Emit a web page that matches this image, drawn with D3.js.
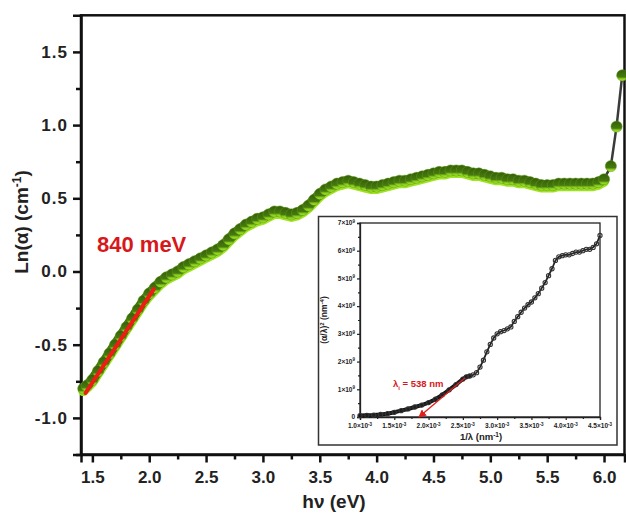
<!DOCTYPE html>
<html>
<head>
<meta charset="utf-8">
<script src="https://cdn.jsdelivr.net/npm/d3@7"></script>
<style>
  body { margin: 0; background: #fff; }
  svg { font-family: Arial, "Liberation Sans", sans-serif; }
</style>
</head>
<body>
<div id="chart"></div>
<script>
// main spectrum: photon energy (eV) vs Ln(alpha)
var energy = [1.42,1.45,1.50,1.55,1.60,1.65,1.70,1.75,1.80,1.85,1.90,1.95,2.00,2.05,2.10,2.15,2.20,2.25,2.30,2.35,2.40,2.45,2.50,2.55,2.60,2.65,2.70,2.75,2.80,2.85,2.90,2.95,3.00,3.05,3.10,3.15,3.20,3.25,3.30,3.35,3.40,3.45,3.50,3.55,3.60,3.65,3.70,3.75,3.80,3.85,3.90,3.95,4.00,4.05,4.10,4.15,4.20,4.25,4.30,4.35,4.40,4.45,4.50,4.55,4.60,4.65,4.70,4.75,4.80,4.85,4.90,4.95,5.00,5.05,5.10,5.15,5.20,5.25,5.30,5.35,5.40,5.45,5.50,5.55,5.60,5.65,5.70,5.75,5.80,5.85,5.90,5.95,6.00,6.06,6.11,6.16];
var lnAlpha = [-0.80,-0.78,-0.74,-0.68,-0.62,-0.56,-0.50,-0.44,-0.38,-0.32,-0.26,-0.20,-0.15,-0.11,-0.07,-0.04,-0.02,0.00,0.03,0.05,0.07,0.09,0.11,0.13,0.15,0.18,0.22,0.26,0.29,0.32,0.34,0.36,0.37,0.39,0.41,0.41,0.40,0.39,0.40,0.42,0.45,0.49,0.53,0.56,0.58,0.60,0.61,0.62,0.61,0.60,0.59,0.58,0.58,0.59,0.60,0.61,0.62,0.62,0.63,0.64,0.65,0.66,0.67,0.68,0.68,0.69,0.69,0.69,0.68,0.67,0.67,0.66,0.65,0.64,0.64,0.63,0.63,0.62,0.62,0.61,0.60,0.59,0.59,0.59,0.60,0.60,0.60,0.60,0.60,0.60,0.60,0.61,0.63,0.72,0.99,1.34];
// linear fit (Urbach tail)
var fitE = [1.44, 2.04];
var fitY = [-0.83, -0.12];
var xTicks = [1.5,2.0,2.5,3.0,3.5,4.0,4.5,5.0,5.5,6.0];
var yTicks = [-1.0,-0.5,0.0,0.5,1.0,1.5];

// inset: 1/lambda vs (alpha/lambda)^2
var invLambda = [1.0,1.1,1.2,1.3,1.4,1.5,1.6,1.7,1.8,1.9,2.0,2.1,2.2,2.3,2.4,2.5,2.55,2.6,2.65,2.7,2.75,2.8,2.85,2.9,2.95,3.0,3.05,3.1,3.15,3.2,3.25,3.3,3.35,3.4,3.45,3.5,3.55,3.6,3.65,3.7,3.75,3.8,3.85,3.9,3.95,4.0,4.05,4.1,4.15,4.2,4.25,4.3,4.35,4.4,4.45,4.5];
var alphaLam = [0.05,0.06,0.07,0.09,0.12,0.17,0.23,0.29,0.36,0.43,0.52,0.64,0.80,0.98,1.17,1.37,1.45,1.48,1.52,1.60,1.80,2.05,2.35,2.62,2.85,3.00,3.08,3.12,3.18,3.25,3.45,3.62,3.78,3.93,4.05,4.15,4.30,4.45,4.65,4.85,5.10,5.35,5.65,5.78,5.82,5.85,5.85,5.90,5.95,5.95,6.00,6.05,6.05,6.12,6.25,6.55];
var insetFitX = [1.86, 2.53];
var insetFitY = [0, 1.41];
var insetXTicks = [1.0,1.5,2.0,2.5,3.0,3.5,4.0,4.5];
var insetYTicks = [0,1,2,3,4,5,6,7];

var W = 626, H = 515;
var svg = d3.select("#chart").append("svg")
    .attr("width", W).attr("height", H);

// gradient for the ball markers: dark top, thin lime bottom
var defs = svg.append("defs");
var grad = defs.append("linearGradient").attr("id", "ball")
    .attr("x1", 0).attr("y1", 0).attr("x2", 0).attr("y2", 1);
grad.append("stop").attr("offset", "0%").attr("stop-color", "#365f0a");
grad.append("stop").attr("offset", "65%").attr("stop-color", "#467a0f");
grad.append("stop").attr("offset", "80%").attr("stop-color", "#86c91c");
grad.append("stop").attr("offset", "100%").attr("stop-color", "#abea2e");

var x = d3.scaleLinear().domain([1.4, 6.18]).range([81, 624.5]);
var y = d3.scaleLinear().domain([-1.25, 1.75]).range([454.5, 15.3]);
var fmt = function(d) { return d.toFixed(1); };

// frame
svg.append("rect")
  .attr("x", 81).attr("y", 15.3)
  .attr("width", 624.5 - 81).attr("height", 454.5 - 15.3)
  .attr("fill", "none").attr("stroke", "#111").attr("stroke-width", 2.5);

// x axis
var xAxis = svg.append("g")
  .attr("transform", "translate(0,454.5)")
  .call(d3.axisBottom(x).tickValues(xTicks).tickFormat(fmt).tickSize(8).tickPadding(8));
svg.append("g")
  .attr("transform", "translate(0,454.5)")
  .call(d3.axisBottom(x).tickValues(d3.range(1.75, 6.1, 0.5)).tickFormat("").tickSize(5))
  .select(".domain").remove();

// y axis
var yAxis = svg.append("g")
  .attr("transform", "translate(81,0)")
  .call(d3.axisLeft(y).tickValues(yTicks).tickFormat(fmt).tickSize(8).tickPadding(5));
svg.append("g")
  .attr("transform", "translate(81,0)")
  .call(d3.axisLeft(y).tickValues([-1.25,-0.75,-0.25,0.25,0.75,1.25]).tickFormat("").tickSize(5))
  .select(".domain").remove();

svg.selectAll(".tick line").attr("stroke", "#111").attr("stroke-width", 2.5);
svg.selectAll(".domain").attr("stroke", "#111").attr("stroke-width", 2.5);
xAxis.selectAll("text").style("font-size", "17px").style("font-weight", "bold").attr("fill", "#222");
yAxis.selectAll("text").style("font-size", "17px").style("font-weight", "bold").attr("fill", "#222")
  .attr("letter-spacing", "1px");

// axis titles
var yt = svg.append("text")
  .attr("transform", "translate(28,222) rotate(-90)")
  .attr("text-anchor", "middle")
  .style("font-size", "19px").style("font-weight", "bold").attr("fill", "#222");
yt.append("tspan").text("Ln(α) (cm");
yt.append("tspan").attr("dy", -7).style("font-size", "12px").text("-1");
yt.append("tspan").attr("dy", 7).text(")");

svg.append("text")
  .attr("x", 334).attr("y", 508)
  .attr("text-anchor", "middle")
  .style("font-size", "19px").style("font-weight", "bold").attr("fill", "#222")
  .text("hν (eV)");

// data: band (lime underlay shifted down + dark green body) then beads
var pts = energy.map(function(e, i) { return {e: e, v: lnAlpha[i]}; });
var band = pts.filter(function(d) { return d.e <= 6.0; });
var line = d3.line().x(function(d) { return x(d.e); }).y(function(d) { return y(d.v); });
svg.append("path").datum(band)
  .attr("d", line).attr("transform", "translate(0,2.5)")
  .attr("fill", "none").attr("stroke", "#9fe324")
  .attr("stroke-width", 10).attr("stroke-linecap", "round");
svg.append("path").datum(band)
  .attr("d", line)
  .attr("fill", "none").attr("stroke", "#40700d")
  .attr("stroke-width", 10).attr("stroke-linecap", "round");
svg.append("path").datum(pts)
  .attr("d", line).attr("fill", "none")
  .attr("stroke", "#3a3a3a").attr("stroke-width", 2.5);
svg.append("g").selectAll("circle")
  .data(pts).enter().append("circle")
    .attr("cx", function(d) { return x(d.e); })
    .attr("cy", function(d) { return y(d.v); })
    .attr("r", 5.6)
    .attr("fill", "url(#ball)")
    .attr("stroke", "#5e9a14").attr("stroke-width", 0.5);

// fit line
svg.append("line")
  .attr("x1", x(fitE[0])).attr("y1", y(fitY[0]))
  .attr("x2", x(fitE[1])).attr("y2", y(fitY[1]))
  .attr("stroke", "#ee1c14").attr("stroke-width", 4).attr("stroke-linecap", "round");

svg.append("text")
  .attr("x", 97).attr("y", 252)
  .style("font-size", "22px").style("font-weight", "bold")
  .attr("fill", "#d7181b")
  .text("840 meV");

// ---------- inset ----------
svg.append("rect")
  .attr("x", 318.5).attr("y", 216.5).attr("width", 298.5).attr("height", 228.5)
  .attr("fill", "#fff").attr("stroke", "#333").attr("stroke-width", 1.5);

var ix = d3.scaleLinear().domain([1.0, 4.5]).range([360, 600]);
var iy = d3.scaleLinear().domain([0, 7]).range([417, 223]);

var inset = svg.append("g");
inset.append("rect")
  .attr("x", 360).attr("y", 223).attr("width", 240).attr("height", 194)
  .attr("fill", "none").attr("stroke", "#222").attr("stroke-width", 1.3);

inset.append("g").attr("transform", "translate(0,417)")
  .call(d3.axisBottom(ix).tickValues(insetXTicks).tickFormat("").tickSize(3));
inset.append("g").attr("transform", "translate(0,417)")
  .call(d3.axisBottom(ix).tickValues(d3.range(1.25, 4.5, 0.5)).tickFormat("").tickSize(2))
  .select(".domain").remove();
inset.append("g").attr("transform", "translate(360,0)")
  .call(d3.axisLeft(iy).tickValues(insetYTicks).tickFormat("").tickSize(3));
inset.append("g").attr("transform", "translate(360,0)")
  .call(d3.axisLeft(iy).tickValues(d3.range(0.5, 7, 1)).tickFormat("").tickSize(2))
  .select(".domain").remove();
inset.selectAll(".tick line").attr("stroke", "#222").attr("stroke-width", 1.2);
inset.selectAll(".domain").attr("stroke", "#222").attr("stroke-width", 1.3);

// inset tick labels with superscripts
insetXTicks.forEach(function(t) {
  var tx = inset.append("text")
    .attr("x", ix(t)).attr("y", 428)
    .attr("text-anchor", "middle")
    .style("font-size", "6.5px").style("font-weight", "bold").attr("fill", "#222");
  tx.append("tspan").text(t.toFixed(1) + "×10");
  tx.append("tspan").attr("dy", -2.5).style("font-size", "4.5px").text("-3");
});
insetYTicks.forEach(function(t) {
  var ty = inset.append("text")
    .attr("x", 355).attr("y", iy(t) + 2.3)
    .attr("text-anchor", "end")
    .style("font-size", "6.5px").style("font-weight", "bold").attr("fill", "#222");
  if (t === 0) { ty.text("0"); return; }
  ty.append("tspan").text(t + "×10");
  ty.append("tspan").attr("dy", -2.5).style("font-size", "4.5px").text("9");
});

// inset titles
var iyt = inset.append("text")
  .attr("transform", "translate(327,320) rotate(-90)")
  .attr("text-anchor", "middle")
  .style("font-size", "8.5px").style("font-weight", "bold").attr("fill", "#222");
iyt.append("tspan").text("(α/λ)");
iyt.append("tspan").attr("dy", -3).style("font-size", "6px").text("2");
iyt.append("tspan").attr("dy", 3).text(" (nm");
iyt.append("tspan").attr("dy", -3).style("font-size", "6px").text("-4");
iyt.append("tspan").attr("dy", 3).text(")");

var ixt = inset.append("text")
  .attr("x", 481).attr("y", 440)
  .attr("text-anchor", "middle")
  .style("font-size", "9.5px").style("font-weight", "bold").attr("fill", "#222");
ixt.append("tspan").text("1/λ (nm");
ixt.append("tspan").attr("dy", -3.5).style("font-size", "6.5px").text("-1");
ixt.append("tspan").attr("dy", 3.5).text(")");

// inset data
var ipts = invLambda.map(function(v, i) { return {x: v, y: alphaLam[i]}; });
var iline = d3.line().x(function(d) { return ix(d.x); }).y(function(d) { return iy(d.y); });
inset.append("path").datum(ipts.filter(function(d) { return d.x <= 2.6; }))
  .attr("d", iline).attr("fill", "none")
  .attr("stroke", "#111").attr("stroke-width", 4).attr("stroke-linecap", "round");
inset.append("path").datum(ipts)
  .attr("d", iline).attr("fill", "none")
  .attr("stroke", "#222").attr("stroke-width", 1.8);
inset.append("g").selectAll("circle")
  .data(ipts).enter().append("circle")
    .attr("cx", function(d) { return ix(d.x); })
    .attr("cy", function(d) { return iy(d.y); })
    .attr("r", 2.1)
    .attr("fill", "none")
    .attr("stroke", "#333").attr("stroke-width", 1.1);

// inset fit line with arrow at the x-intercept
defs.append("marker").attr("id", "arrow")
  .attr("viewBox", "0 0 10 10").attr("refX", 9).attr("refY", 5)
  .attr("markerWidth", 6).attr("markerHeight", 6).attr("orient", "auto")
  .append("path").attr("d", "M0,0 L10,5 L0,10 z").attr("fill", "#e0201c");
inset.append("line")
  .attr("x1", ix(insetFitX[1])).attr("y1", iy(insetFitY[1]))
  .attr("x2", ix(insetFitX[0])).attr("y2", iy(insetFitY[0]))
  .attr("stroke", "#e0201c").attr("stroke-width", 1.3)
  .attr("marker-end", "url(#arrow)");

var lt = inset.append("text")
  .attr("x", 393).attr("y", 387)
  .style("font-size", "9.5px").style("font-weight", "bold").attr("fill", "#d7181b");
lt.append("tspan").text("λ");
lt.append("tspan").attr("dy", 2.5).style("font-size", "6px").text("i");
lt.append("tspan").attr("dy", -2.5).text(" = 538 nm");
</script>
</body>
</html>
